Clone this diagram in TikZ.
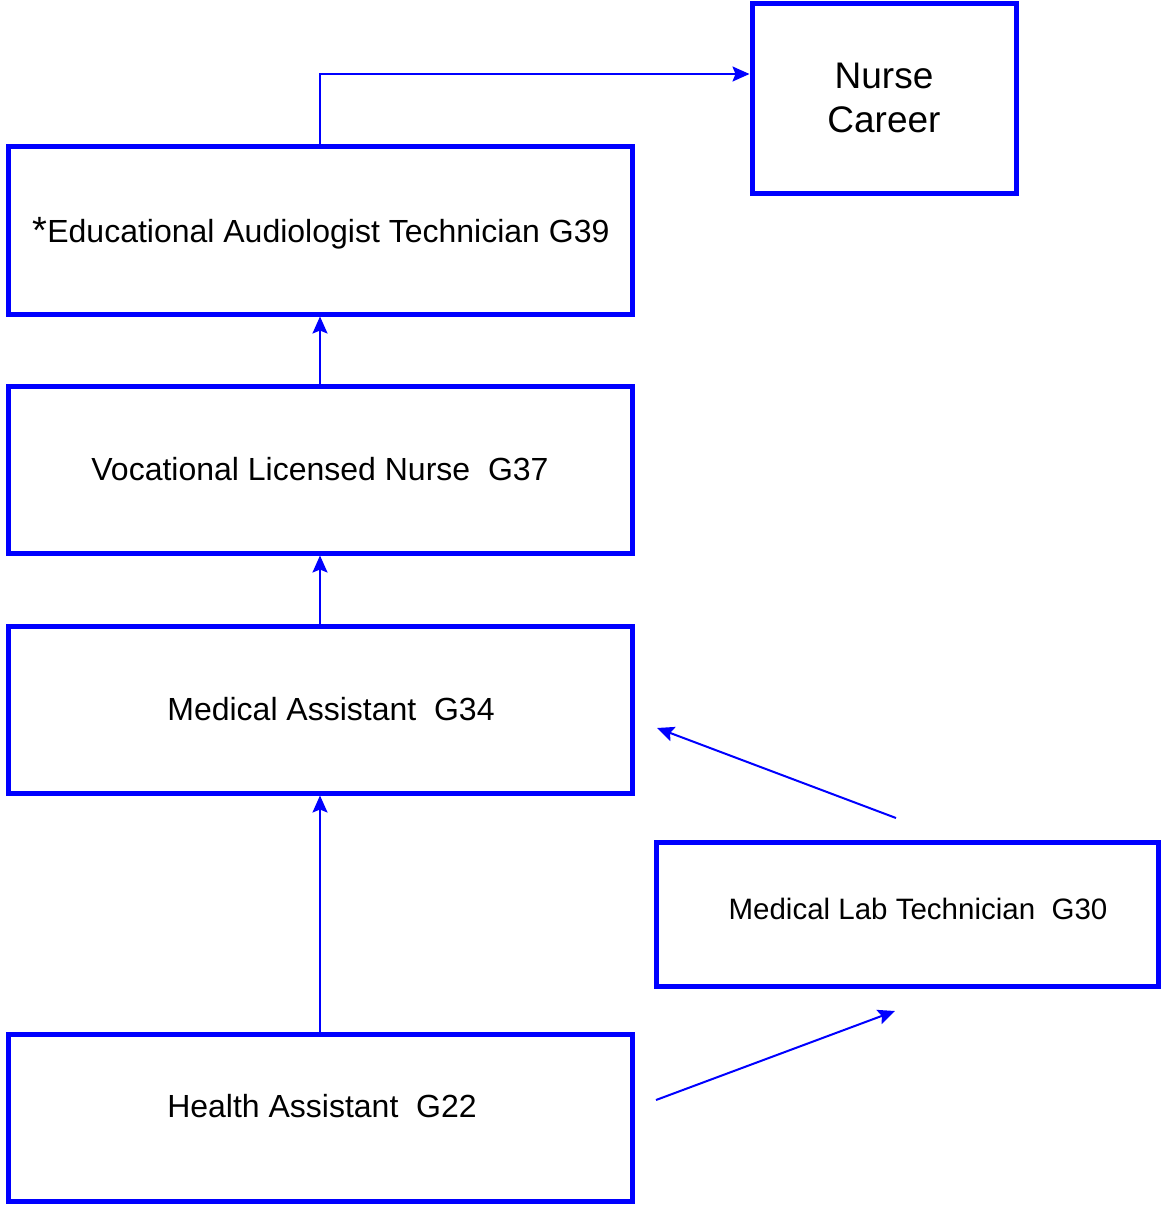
\documentclass[tikz,border=0pt]{standalone}
\usepackage{fontspec}
\setmainfont{Liberation Sans}
\usetikzlibrary{arrows.meta}
\tikzset{
  jobbox/.style={draw=blue, line width=5pt, inner sep=0pt,
    font=\fontsize{32}{38}\selectfont},
  link/.style={draw=blue, line width=2pt,
    -{Stealth[length=17pt,width=15pt,inset=3pt]}}
}
\begin{document}
\begin{tikzpicture}[x=1pt,y=-1pt]
\useasboundingbox (0,0) rectangle (1160,1205);
% career boxes
\node [jobbox, minimum width=264pt, minimum height=190pt, align=center,
  font=\fontsize{37}{44}\selectfont] (nurse) at (884,98) {Nurse\\Career};
\node [jobbox, minimum width=624pt, minimum height=168pt] (edu) at (320,230)
  {\hspace*{2pt}\raisebox{-12.5pt}[0pt][0pt]{\raisebox{-1pt}{\fontsize{38}{38}\selectfont*}Educational Audiologist Technician G39}};
\node [jobbox, minimum width=624pt, minimum height=167pt] (voc) at (320,469.5)
  {Vocational Licensed Nurse\ \ G37};
\node [jobbox, minimum width=624pt, minimum height=167pt] (ma) at (320,709.5)
  {\hspace*{22pt}Medical Assistant\ \ G34};
\node [jobbox, minimum width=624pt, minimum height=167pt] (ha) at (320,1117.5)
  {\hspace*{4pt}\raisebox{23pt}{Health Assistant\ \ G22}};
\node [jobbox, minimum width=502pt, minimum height=144pt,
  font=\fontsize{29.5}{35}\selectfont] (lab) at (907,914)
  {\hspace*{22pt}\raisebox{10pt}{Medical Lab Technician\ \ G30}};
% connectors
\coordinate (bend) at (320,74);
\draw [link] (edu.north) -- (bend) -- (nurse.west |- bend);
\draw [link] (voc.north) -- (edu.south);
\draw [link] (ma.north) -- (voc.south);
\draw [link] (ha.north) -- (ma.south);
\coordinate (labtop) at (896,818);
\coordinate (maright) at (657,728);
\draw [link] (labtop) -- (maright);
\coordinate (haright) at (656,1100);
\coordinate (labbot) at (895,1011);
\draw [link] (haright) -- (labbot);
\end{tikzpicture}
\end{document}
